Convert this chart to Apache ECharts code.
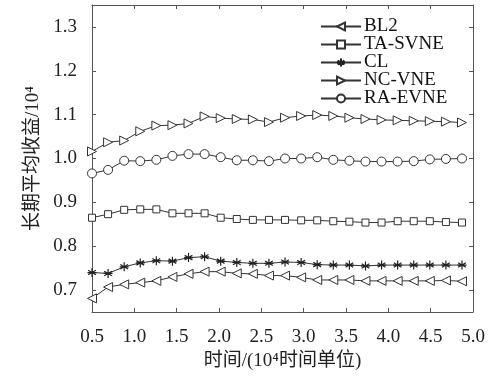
<!DOCTYPE html>
<html>
<head>
<meta charset="utf-8">
<script src="https://cdn.jsdelivr.net/npm/echarts@6/dist/echarts.min.js"></script>
<style>html,body{margin:0;padding:0;background:#fff;}#c{width:499px;height:380px;}</style>
</head>
<body>
<div id="c"></div>
<script>
var xValues = [0.50, 0.69, 0.88, 1.07, 1.26, 1.45, 1.64, 1.83, 2.02, 2.21, 2.40, 2.59, 2.78, 2.97, 3.16, 3.35, 3.54, 3.73, 3.92, 4.11, 4.30, 4.49, 4.68, 4.87];
var bl2 = [0.681, 0.707, 0.713, 0.717, 0.721, 0.730, 0.737, 0.742, 0.742, 0.738, 0.737, 0.733, 0.733, 0.729, 0.723, 0.723, 0.723, 0.721, 0.721, 0.721, 0.721, 0.721, 0.722, 0.720];
var taSvne = [0.865, 0.873, 0.883, 0.884, 0.884, 0.875, 0.875, 0.875, 0.865, 0.862, 0.860, 0.860, 0.860, 0.859, 0.859, 0.857, 0.856, 0.854, 0.854, 0.857, 0.857, 0.857, 0.855, 0.854];
var cl = [0.740, 0.738, 0.753, 0.762, 0.767, 0.766, 0.774, 0.776, 0.766, 0.763, 0.761, 0.761, 0.764, 0.763, 0.758, 0.757, 0.757, 0.755, 0.757, 0.757, 0.757, 0.757, 0.757, 0.757];
var ncVne = [1.016, 1.037, 1.041, 1.062, 1.075, 1.076, 1.080, 1.096, 1.092, 1.090, 1.089, 1.083, 1.093, 1.097, 1.099, 1.097, 1.093, 1.090, 1.088, 1.087, 1.086, 1.085, 1.084, 1.082];
var raEvne = [0.966, 0.974, 0.995, 0.994, 0.997, 1.006, 1.010, 1.010, 1.003, 0.996, 0.996, 0.994, 1.000, 1.000, 1.003, 0.997, 0.995, 0.993, 0.993, 0.993, 0.994, 0.998, 0.999, 1.000];
var seriesNames = ['BL2', 'TA-SVNE', 'CL', 'NC-VNE', 'RA-EVNE'];
var yTicks = [0.7, 0.8, 0.9, 1.0, 1.1, 1.2, 1.3];

var FONT = '"Liberation Serif", "Times New Roman", "Noto Sans CJK SC", serif';
var LINE = '#333';
var AX = '#555';

function pairs(ys) { return xValues.map(function (x, i) { return [x, ys[i]]; }); }
function mk(name, ys, symbol, size, rot) {
  return {
    name: name, type: 'line', data: pairs(ys), symbol: symbol, symbolSize: size,
    symbolRotate: rot || 0, showAllSymbol: true, animation: false,
    lineStyle: { color: LINE, width: 1 },
    itemStyle: { color: '#fff', borderColor: LINE, borderWidth: 1 }
  };
}
var star = 'path://M5 0L5 10M0.7 2.5L9.3 7.5M0.7 7.5L9.3 2.5M0 5L10 5';

var chart = echarts.init(document.getElementById('c'), null, { renderer: 'canvas' });
var starSeries = mk(seriesNames[2], cl, star, 9);
starSeries.itemStyle = { color: '#fff', borderColor: '#222', borderWidth: 1.2 };
chart.setOption({
  backgroundColor: '#fff',
  animation: false,
  grid: { left: 92, right: 26, top: 5, bottom: 68, containLabel: false },
  legend: {
    orient: 'vertical', left: 315, top: 12, itemWidth: 40, itemHeight: 10, itemGap: -1,
    textStyle: { fontFamily: FONT, fontSize: 19, color: '#111', padding: [0, 0, 0, -2] },
    data: seriesNames
  },
  xAxis: [{
    type: 'value', min: 0.5, max: 5.0, interval: 0.5, position: 'bottom',
    name: '时间/(10⁴时间单位)', nameLocation: 'middle', nameGap: 40,
    nameTextStyle: { fontFamily: FONT, fontSize: 19, color: '#222' },
    axisLine: { show: true, lineStyle: { color: AX, width: 1 } },
    axisTick: { show: true, inside: true, length: 4, lineStyle: { color: AX } },
    axisLabel: { fontFamily: FONT, fontSize: 19, color: '#222', margin: 16, formatter: function (v) { return v.toFixed(1); } },
    splitLine: { show: false }
  }, {
    type: 'value', min: 0.5, max: 5.0, interval: 0.5, position: 'top',
    axisLine: { show: true, lineStyle: { color: AX, width: 1 } },
    axisTick: { show: true, inside: true, length: 4, lineStyle: { color: AX } },
    axisLabel: { show: false }, splitLine: { show: false }
  }],
  yAxis: [{
    type: 'value', min: 0.65, max: 1.35, position: 'left',
    name: '长期平均收益/10⁴', nameLocation: 'middle', nameGap: 47, nameRotate: 90,
    nameTextStyle: { fontFamily: FONT, fontSize: 19, color: '#222' },
    axisLine: { show: true, lineStyle: { color: AX, width: 1 } },
    axisTick: { show: true, inside: true, length: 4, lineStyle: { color: AX }, customValues: yTicks },
    axisLabel: { fontFamily: FONT, fontSize: 19, color: '#222', margin: 15, customValues: yTicks, formatter: function (v) { return v.toFixed(1); } },
    splitLine: { show: false }
  }, {
    type: 'value', min: 0.65, max: 1.35, position: 'right',
    axisLine: { show: true, lineStyle: { color: AX, width: 1 } },
    axisTick: { show: true, inside: true, length: 4, lineStyle: { color: AX }, customValues: yTicks },
    axisLabel: { show: false }, splitLine: { show: false }
  }],
  series: [
    mk(seriesNames[0], bl2, 'triangle', 9, 90),
    mk(seriesNames[1], taSvne, 'rect', 7),
    starSeries,
    mk(seriesNames[3], ncVne, 'triangle', 9, -90),
    mk(seriesNames[4], raEvne, 'circle', 9)
  ]
});
</script>
</body>
</html>
